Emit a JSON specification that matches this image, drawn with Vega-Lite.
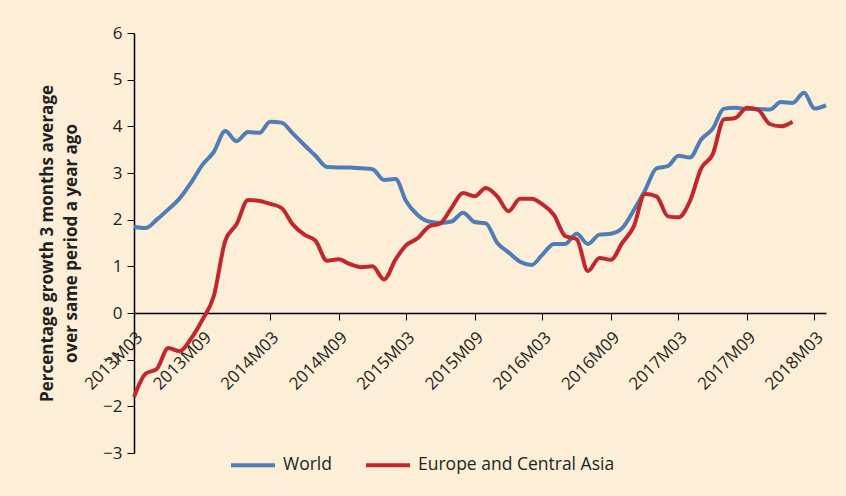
{
  "$schema": "https://vega.github.io/schema/vega-lite/v6.json",
  "autosize": {"type": "none"},
  "width": 692,
  "height": 420,
  "padding": {"left": 134, "top": 33, "right": 20, "bottom": 43},
  "background": "#FDEED7",
  "config": {
    "view": {"stroke": null},
    "font": "Open Sans",
    "axis": {"labelFont": "Open Sans", "labelColor": "#231F20", "titleColor": "#231F20", "domainColor": "#000000", "tickColor": "#000000", "grid": false}
  },
  "data": {"values": [
    {"d":"2013-03-01","s":"World","v":1.85},{"d":"2013-04-01","s":"World","v":1.82},{"d":"2013-05-01","s":"World","v":2.0},{"d":"2013-06-01","s":"World","v":2.22},{"d":"2013-07-01","s":"World","v":2.45},{"d":"2013-08-01","s":"World","v":2.79},{"d":"2013-09-01","s":"World","v":3.18},{"d":"2013-10-01","s":"World","v":3.45},{"d":"2013-11-01","s":"World","v":3.9},{"d":"2013-12-01","s":"World","v":3.68},
    {"d":"2014-01-01","s":"World","v":3.88},{"d":"2014-02-01","s":"World","v":3.86},{"d":"2014-03-01","s":"World","v":4.1},{"d":"2014-04-01","s":"World","v":4.08},{"d":"2014-05-01","s":"World","v":3.85},{"d":"2014-06-01","s":"World","v":3.6},{"d":"2014-07-01","s":"World","v":3.37},{"d":"2014-08-01","s":"World","v":3.13},{"d":"2014-09-01","s":"World","v":3.12},{"d":"2014-10-01","s":"World","v":3.12},{"d":"2014-11-01","s":"World","v":3.10},{"d":"2014-12-01","s":"World","v":3.08},
    {"d":"2015-01-01","s":"World","v":2.85},{"d":"2015-02-01","s":"World","v":2.87},{"d":"2015-03-01","s":"World","v":2.4},{"d":"2015-04-01","s":"World","v":2.1},{"d":"2015-05-01","s":"World","v":1.96},{"d":"2015-06-01","s":"World","v":1.93},{"d":"2015-07-01","s":"World","v":1.96},{"d":"2015-08-01","s":"World","v":2.15},{"d":"2015-09-01","s":"World","v":1.95},{"d":"2015-10-01","s":"World","v":1.92},{"d":"2015-11-01","s":"World","v":1.5},{"d":"2015-12-01","s":"World","v":1.3},
    {"d":"2016-01-01","s":"World","v":1.1},{"d":"2016-02-01","s":"World","v":1.03},{"d":"2016-03-01","s":"World","v":1.25},{"d":"2016-04-01","s":"World","v":1.48},{"d":"2016-05-01","s":"World","v":1.48},{"d":"2016-06-01","s":"World","v":1.70},{"d":"2016-07-01","s":"World","v":1.48},{"d":"2016-08-01","s":"World","v":1.68},{"d":"2016-09-01","s":"World","v":1.70},{"d":"2016-10-01","s":"World","v":1.82},{"d":"2016-11-01","s":"World","v":2.2},{"d":"2016-12-01","s":"World","v":2.62},
    {"d":"2017-01-01","s":"World","v":3.1},{"d":"2017-02-01","s":"World","v":3.15},{"d":"2017-03-01","s":"World","v":3.37},{"d":"2017-04-01","s":"World","v":3.33},{"d":"2017-05-01","s":"World","v":3.72},{"d":"2017-06-01","s":"World","v":3.95},{"d":"2017-07-01","s":"World","v":4.38},{"d":"2017-08-01","s":"World","v":4.4},{"d":"2017-09-01","s":"World","v":4.37},{"d":"2017-10-01","s":"World","v":4.37},{"d":"2017-11-01","s":"World","v":4.36},{"d":"2017-12-01","s":"World","v":4.52},
    {"d":"2018-01-01","s":"World","v":4.5},{"d":"2018-02-01","s":"World","v":4.72},{"d":"2018-03-01","s":"World","v":4.38},{"d":"2018-04-01","s":"World","v":4.45},
    {"d":"2013-03-01","s":"Europe and Central Asia","v":-1.8},{"d":"2013-04-01","s":"Europe and Central Asia","v":-1.3},{"d":"2013-05-01","s":"Europe and Central Asia","v":-1.2},{"d":"2013-06-01","s":"Europe and Central Asia","v":-0.75},{"d":"2013-07-01","s":"Europe and Central Asia","v":-0.82},{"d":"2013-08-01","s":"Europe and Central Asia","v":-0.55},{"d":"2013-09-01","s":"Europe and Central Asia","v":-0.14},{"d":"2013-10-01","s":"Europe and Central Asia","v":0.36},{"d":"2013-11-01","s":"Europe and Central Asia","v":1.55},{"d":"2013-12-01","s":"Europe and Central Asia","v":1.9},
    {"d":"2014-01-01","s":"Europe and Central Asia","v":2.42},{"d":"2014-02-01","s":"Europe and Central Asia","v":2.4},{"d":"2014-03-01","s":"Europe and Central Asia","v":2.34},{"d":"2014-04-01","s":"Europe and Central Asia","v":2.25},{"d":"2014-05-01","s":"Europe and Central Asia","v":1.9},{"d":"2014-06-01","s":"Europe and Central Asia","v":1.68},{"d":"2014-07-01","s":"Europe and Central Asia","v":1.55},{"d":"2014-08-01","s":"Europe and Central Asia","v":1.12},{"d":"2014-09-01","s":"Europe and Central Asia","v":1.15},{"d":"2014-10-01","s":"Europe and Central Asia","v":1.05},{"d":"2014-11-01","s":"Europe and Central Asia","v":0.98},{"d":"2014-12-01","s":"Europe and Central Asia","v":1.0},
    {"d":"2015-01-01","s":"Europe and Central Asia","v":0.72},{"d":"2015-02-01","s":"Europe and Central Asia","v":1.15},{"d":"2015-03-01","s":"Europe and Central Asia","v":1.45},{"d":"2015-04-01","s":"Europe and Central Asia","v":1.6},{"d":"2015-05-01","s":"Europe and Central Asia","v":1.85},{"d":"2015-06-01","s":"Europe and Central Asia","v":1.92},{"d":"2015-07-01","s":"Europe and Central Asia","v":2.25},{"d":"2015-08-01","s":"Europe and Central Asia","v":2.57},{"d":"2015-09-01","s":"Europe and Central Asia","v":2.5},{"d":"2015-10-01","s":"Europe and Central Asia","v":2.68},{"d":"2015-11-01","s":"Europe and Central Asia","v":2.5},{"d":"2015-12-01","s":"Europe and Central Asia","v":2.18},
    {"d":"2016-01-01","s":"Europe and Central Asia","v":2.45},{"d":"2016-02-01","s":"Europe and Central Asia","v":2.45},{"d":"2016-03-01","s":"Europe and Central Asia","v":2.33},{"d":"2016-04-01","s":"Europe and Central Asia","v":2.1},{"d":"2016-05-01","s":"Europe and Central Asia","v":1.65},{"d":"2016-06-01","s":"Europe and Central Asia","v":1.58},{"d":"2016-07-01","s":"Europe and Central Asia","v":0.9},{"d":"2016-08-01","s":"Europe and Central Asia","v":1.18},{"d":"2016-09-01","s":"Europe and Central Asia","v":1.14},{"d":"2016-10-01","s":"Europe and Central Asia","v":1.5},{"d":"2016-11-01","s":"Europe and Central Asia","v":1.85},{"d":"2016-12-01","s":"Europe and Central Asia","v":2.55},
    {"d":"2017-01-01","s":"Europe and Central Asia","v":2.5},{"d":"2017-02-01","s":"Europe and Central Asia","v":2.07},{"d":"2017-03-01","s":"Europe and Central Asia","v":2.05},{"d":"2017-04-01","s":"Europe and Central Asia","v":2.4},{"d":"2017-05-01","s":"Europe and Central Asia","v":3.1},{"d":"2017-06-01","s":"Europe and Central Asia","v":3.4},{"d":"2017-07-01","s":"Europe and Central Asia","v":4.15},{"d":"2017-08-01","s":"Europe and Central Asia","v":4.18},{"d":"2017-09-01","s":"Europe and Central Asia","v":4.4},{"d":"2017-10-01","s":"Europe and Central Asia","v":4.35},{"d":"2017-11-01","s":"Europe and Central Asia","v":4.05},{"d":"2017-12-01","s":"Europe and Central Asia","v":4.0},
    {"d":"2018-01-01","s":"Europe and Central Asia","v":4.1}
  ]},
  "mark": {"type": "line", "strokeWidth": 4, "interpolate": "monotone"},
  "encoding": {
    "x": {
      "field": "d", "type": "temporal",
      "scale": {"type": "utc", "domain": [{"year": 2013, "month": 3, "date": 1, "utc": true}, {"year": 2018, "month": 4, "date": 1, "utc": true}]},
      "axis": {
        "title": null,
        "offset": -140,
        "values": [
          {"year": 2013, "month": 3, "date": 1, "utc": true},
          {"year": 2013, "month": 9, "date": 1, "utc": true},
          {"year": 2014, "month": 3, "date": 1, "utc": true},
          {"year": 2014, "month": 9, "date": 1, "utc": true},
          {"year": 2015, "month": 3, "date": 1, "utc": true},
          {"year": 2015, "month": 9, "date": 1, "utc": true},
          {"year": 2016, "month": 3, "date": 1, "utc": true},
          {"year": 2016, "month": 9, "date": 1, "utc": true},
          {"year": 2017, "month": 3, "date": 1, "utc": true},
          {"year": 2017, "month": 9, "date": 1, "utc": true},
          {"year": 2018, "month": 3, "date": 1, "utc": true}
        ],
        "labelExpr": "utcFormat(datum.value, '%YM%m')",
        "labelAngle": -45,
        "labelAlign": "right",
        "labelBaseline": "top",
        "labelFontSize": 17,
        "labelPadding": 9,
        "labelOverlap": false,
        "labelBound": false,
        "labelFlush": false,
        "tickSize": 7,
        "domainWidth": 1.5
      }
    },
    "y": {
      "field": "v", "type": "quantitative",
      "scale": {"domain": [-3, 6], "nice": false, "zero": false},
      "axis": {
        "title": ["Percentage growth 3 months average", "over same period a year ago"],
        "titleFont": "Open Sans",
        "titleFontSize": 17,
        "titleFontWeight": "bold",
        "titleLineHeight": 24,
        "titlePadding": 22,
        "values": [-3, -2, -1, 0, 1, 2, 3, 4, 5, 6],
        "labelExpr": "replace(format(datum.value, 'd'), '-', '\u2212')",
        "labelFontSize": 17,
        "labelPadding": 5,
        "tickSize": 7,
        "domainWidth": 1.5
      }
    },
    "color": {
      "field": "s", "type": "nominal",
      "scale": {"domain": ["World", "Europe and Central Asia"], "range": ["#4E7EB5", "#C1272D"]},
      "legend": {
        "title": null,
        "orient": "none",
        "direction": "horizontal",
        "legendX": 95,
        "legendY": 408,
        "symbolType": "stroke",
        "symbolSize": 1936,
        "symbolStrokeWidth": 4,
        "labelFont": "Open Sans",
        "labelFontSize": 17.5,
        "labelLimit": 0,
        "labelColor": "#231F20",
        "labelOffset": 6,
        "columnPadding": 26,
        "padding": 0
      }
    }
  }
}
